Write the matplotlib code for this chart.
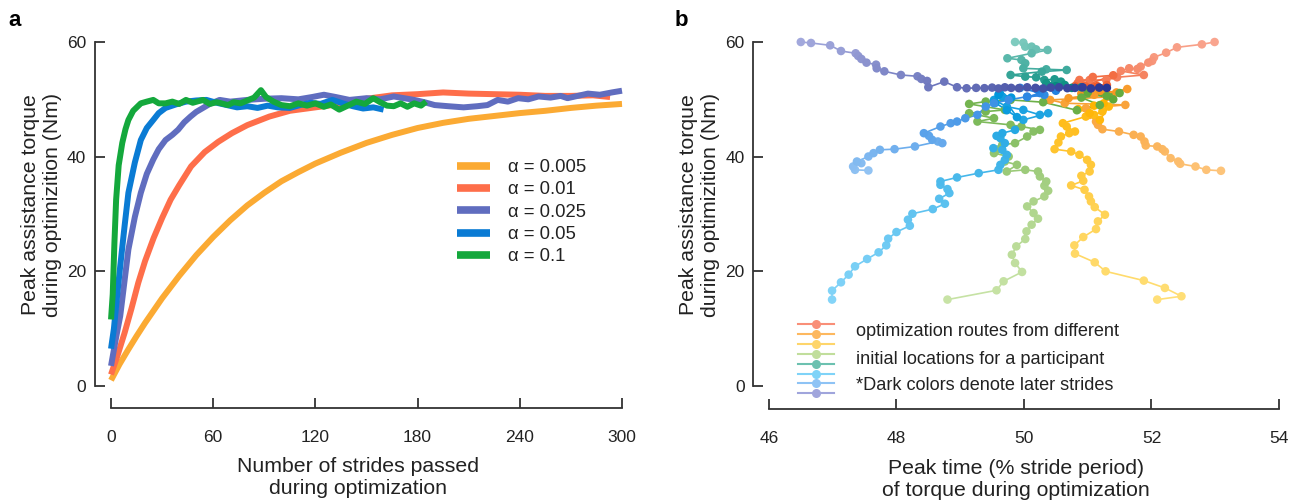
import numpy as np
import matplotlib
matplotlib.use("Agg")
import matplotlib.pyplot as plt
from matplotlib.collections import LineCollection
from matplotlib.colors import LinearSegmentedColormap
from matplotlib.lines import Line2D

plt.rcParams['font.family'] = ['Liberation Sans', 'DejaVu Sans']

# ---------------- Panel a data ----------------
alpha_labels = ["α = 0.005", "α = 0.01", "α = 0.025", "α = 0.05", "α = 0.1"]
alpha_colors = ["#fbaa33", "#fe6e4a", "#606dbf", "#0a7bd4", "#14a83c"]

x_a005 = [0, 5, 10, 15, 20, 30, 40, 50, 60, 70, 80, 90, 100, 110, 120, 135, 150, 165, 180,
          195, 210, 225, 240, 255, 270, 285, 300]
y_a005 = [1.0, 3.8, 6.3, 8.7, 11.0, 15.3, 19.2, 22.8, 26.0, 28.9, 31.5, 33.7, 35.7, 37.3, 38.8,
          40.7, 42.4, 43.8, 45.0, 45.9, 46.6, 47.1, 47.6, 48.0, 48.5, 48.9, 49.2]

x_a01 = [0, 4, 8, 12, 16, 20, 25, 30, 35, 40, 47, 55, 63, 71, 80, 93, 105, 120, 135, 150,
         165, 180, 195, 210, 225, 240, 255, 270, 283, 293]
y_a01 = [2.0, 5.5, 9.3, 13.5, 18.0, 21.8, 25.8, 29.3, 32.5, 35.0, 38.3, 40.8, 42.6, 44.1, 45.5,
         47.0, 48.0, 48.6, 49.2, 50.1, 50.7, 50.9, 51.2, 51.0, 50.9, 50.8, 50.6, 50.6, 50.7, 50.4]

x_a025 = [0, 3, 5.4, 8, 10.2, 14, 17.5, 21, 24.8, 28, 32, 36, 39.4, 43, 46.7, 50, 54, 58, 63.8,
          70, 80, 90, 100, 110, 118, 125, 132, 140, 150, 158, 166, 172, 178, 184, 190, 198,
          207, 215, 221, 227, 233, 239, 245, 251, 258, 264, 268, 274, 280, 287, 294, 300]
y_a025 = [3.5, 8.5, 12.2, 18.5, 23.8, 29.5, 33.7, 37.0, 39.5, 41.3, 42.9, 43.8, 44.7, 46.0, 47.0,
          47.8, 48.5, 49.2, 49.9, 49.6, 49.9, 50.1, 50.2, 50.0, 50.4, 50.8, 50.4, 49.9, 50.2, 50.0,
          50.5, 50.2, 49.9, 49.5, 49.0, 48.8, 48.6, 48.8, 49.0, 49.9, 49.6, 50.2, 50.0, 50.5, 50.3,
          50.6, 50.2, 50.6, 51.0, 50.8, 51.2, 51.5]

x_a05 = [0, 1.7, 3.5, 5.4, 8, 10.2, 14, 17.5, 21, 24.8, 28, 32, 38, 44, 50, 56, 62, 68, 74, 80,
         86, 92, 98, 105, 111, 117, 123, 130, 136, 142, 148, 154, 160]
y_a05 = [6.5, 10.0, 15.5, 20.9, 28.0, 33.7, 39.0, 42.9, 45.0, 46.4, 47.6, 48.5, 49.1, 49.6, 49.8,
         49.9, 49.4, 49.0, 48.6, 48.8, 48.5, 48.9, 48.6, 48.5, 49.0, 49.4, 49.2, 49.9, 49.3, 48.8,
         48.4, 48.6, 48.2]

x_a1 = [0, 1, 2, 3, 4.5, 6.6, 8.5, 10.2, 13, 17.5, 21, 24.8, 28, 32, 36, 40, 44, 48, 54, 58, 62,
        68.7, 72, 76, 80.8, 84, 88, 91, 95.4, 100, 105, 110, 115, 120, 125, 129, 134, 139, 144,
        149, 154, 158, 162, 166, 170, 174, 178, 182, 185]
y_a1 = [11.6, 16.0, 25.0, 32.5, 38.5, 42.4, 44.8, 46.4, 48.0, 49.3, 49.6, 49.9, 49.3, 49.3, 49.6,
        49.2, 49.9, 49.4, 49.9, 49.2, 49.5, 49.0, 49.5, 49.3, 49.9, 50.3, 51.6, 50.4, 49.6, 49.0,
        48.8, 49.3, 48.9, 49.3, 48.7, 49.1, 48.2, 48.9, 49.6, 49.2, 50.2, 49.5, 48.9, 48.8, 49.3,
        48.7, 49.3, 48.9, 49.6]

series_x = [x_a005, x_a01, x_a025, x_a05, x_a1]
series_y = [y_a005, y_a01, y_a025, y_a05, y_a1]

xticks_a = [0, 60, 120, 180, 240, 300]
yticks = [0, 20, 40, 60]

# ---------------- Panel b data ----------------
r1_x = [52.99, 52.79, 52.40, 52.23, 52.04, 52.01, 51.95, 51.83, 51.78, 51.65, 51.52, 51.88, 51.46,
        51.29, 51.03, 50.87, 50.84, 51.08, 51.40, 50.95, 51.10, 51.30, 50.80, 51.00, 51.15]
r1_y = [60.0, 59.59, 59.07, 58.14, 57.33, 56.69, 56.40, 55.71, 55.30, 55.42, 54.95, 54.25, 53.85,
        53.38, 53.38, 53.38, 52.80, 53.9, 54.2, 52.4, 52.2, 52.5, 52.3, 52.0, 52.3]

r2_x = [53.09, 52.86, 52.69, 52.45, 52.42, 52.30, 52.21, 52.17, 52.09, 51.91, 51.89, 51.83, 51.72,
        51.49, 51.23, 51.16, 51.13, 51.03, 50.97, 51.59, 50.64, 50.41, 51.30, 51.62, 51.10, 50.70,
        51.45, 51.20, 50.90]
r2_y = [37.54, 37.71, 38.29, 38.76, 39.16, 39.74, 40.91, 41.31, 41.78, 41.95, 42.65, 43.52, 43.81,
        44.39, 44.79, 45.55, 46.13, 47.29, 48.45, 49.03, 49.32, 49.90, 50.40, 51.80, 50.8, 50.2,
        51.2, 51.5, 51.0]

r3_x = [52.09, 52.47, 52.21, 51.88, 51.28, 51.11, 50.80, 50.79, 50.93, 51.13, 51.16, 51.27, 51.11,
        51.05, 51.02, 50.95, 50.74, 50.93, 50.90, 51.03, 51.05, 50.99, 50.87, 50.74, 50.48, 50.54,
        50.58, 50.71, 50.80, 50.67, 50.61, 50.97, 51.10, 51.23, 51.33, 51.19, 51.03, 50.85, 51.10,
        51.25]
r3_y = [15.08, 15.66, 17.11, 18.39, 20.01, 21.58, 23.09, 24.54, 25.99, 27.38, 28.72, 29.88, 31.21,
        32.20, 33.07, 34.23, 34.99, 35.80, 36.67, 37.42, 38.58, 39.45, 40.33, 40.91, 41.31, 42.47,
        43.52, 44.10, 44.39, 45.26, 45.84, 47.00, 47.29, 47.87, 48.74, 46.4, 47.6, 48.3, 48.9, 49.3]

r4_x = [48.80, 49.57, 49.68, 49.97, 49.86, 49.81, 49.88, 50.02, 50.04, 50.12, 50.22, 50.15, 50.05,
        50.15, 50.32, 50.38, 50.32, 50.35, 50.25, 50.22, 50.02, 49.73, 49.89, 49.70, 49.76, 49.53,
        49.57, 49.66, 49.86, 50.05, 50.15, 50.25, 49.96, 49.79, 49.27, 49.53, 49.14, 49.40, 49.70,
        49.14, 49.40, 49.79, 50.30, 50.83, 51.19, 50.90, 51.50, 51.30, 51.00, 51.40]
r4_y = [15.08, 16.70, 18.27, 19.90, 21.46, 22.91, 24.36, 25.64, 26.98, 28.14, 29.18, 30.17, 31.33,
        32.20, 33.07, 34.06, 34.93, 35.68, 36.55, 37.42, 37.71, 37.42, 38.58, 39.16, 40.03, 40.62,
        41.20, 42.07, 42.36, 43.52, 44.39, 44.68, 45.26, 45.55, 46.13, 46.71, 47.58, 47.87, 48.16,
        49.20, 49.61, 49.90, 49.5, 48.1, 49.0, 50.3, 51.1, 50.6, 51.2, 50.0]

r5_x = [49.86, 49.99, 50.02, 50.12, 50.19, 50.37, 50.12, 49.74, 49.96, 50.02, 49.99, 50.35, 50.67,
        50.28, 49.79, 50.02, 50.19, 50.32, 50.48, 50.58, 50.35, 50.64, 50.90, 50.50, 50.75]
r5_y = [60.0, 59.88, 59.19, 59.19, 58.72, 58.61, 58.03, 57.16, 56.87, 56.29, 55.41, 55.24, 55.12,
        54.83, 54.25, 53.96, 53.85, 53.38, 53.50, 53.09, 52.80, 52.51, 52.11, 52.3, 52.0]

r6_x = [46.99, 46.99, 47.13, 47.25, 47.35, 47.54, 47.72, 47.84, 47.87, 48.00, 48.21, 48.18, 48.25,
        48.57, 48.76, 48.67, 48.83, 48.80, 48.69, 48.69, 48.95, 49.29, 49.60, 49.63, 49.70, 49.73,
        49.66, 49.52, 49.70, 49.63, 49.57, 49.66, 49.86, 49.99, 50.38, 50.25, 49.99, 49.73, 49.53,
        49.66, 49.89, 49.73, 49.55, 49.62, 49.80, 49.60]
r6_y = [15.08, 16.64, 18.09, 19.43, 20.88, 22.16, 23.32, 24.54, 25.70, 26.86, 27.96, 29.01, 30.05,
        30.86, 31.79, 32.66, 33.65, 34.35, 35.10, 35.68, 36.38, 37.13, 37.71, 38.58, 39.45, 40.33,
        41.20, 41.49, 42.36, 43.23, 43.63, 44.10, 44.68, 46.42, 47.58, 47.29, 48.16, 48.74, 49.90,
        50.48, 46.9, 48.1, 49.4, 51.1, 50.3, 50.8]

r7_x = [47.56, 47.35, 47.32, 47.45, 47.38, 47.56, 47.64, 47.74, 47.97, 48.29, 48.65, 48.72, 48.56,
        48.51, 48.43, 48.69, 48.85, 48.95, 49.08, 49.27, 49.40, 49.53, 49.76, 50.05, 50.32, 50.05,
        50.25, 49.94, 50.50, 50.20]
r7_y = [37.60, 37.71, 38.29, 38.87, 39.16, 40.03, 40.62, 41.20, 41.31, 41.78, 42.65, 42.36, 42.94,
        43.63, 44.10, 45.26, 45.84, 46.13, 46.71, 47.29, 48.74, 49.32, 49.90, 50.48, 50.77, 50.4,
        51.1, 52.0, 51.5, 51.8]

r8_x = [46.50, 46.66, 46.96, 47.13, 47.36, 47.40, 47.45, 47.53, 47.68, 47.69, 47.81, 48.07, 48.33,
        48.39, 48.48, 48.50, 48.75, 48.95, 49.10, 49.25, 49.38, 49.50, 49.60, 49.70, 49.80, 49.92,
        50.05, 50.18, 50.30, 50.42, 50.55, 50.68, 50.80, 50.92, 51.05, 51.18, 51.30]
r8_y = [60.0, 59.83, 59.42, 58.43, 58.03, 57.56, 57.04, 56.40, 56.05, 55.41, 54.89, 54.25, 54.02,
        53.56, 53.21, 52.11, 53.09, 52.11, 51.93, 52.0, 51.95, 52.05, 51.9, 52.1, 52.0, 51.95, 52.1,
        52.0, 51.9, 52.05, 52.1, 51.95, 52.0, 52.1, 51.9, 52.05, 52.0]

routes_x = [r1_x, r2_x, r3_x, r4_x, r5_x, r6_x, r7_x, r8_x]
routes_y = [r1_y, r2_y, r3_y, r4_y, r5_y, r6_y, r7_y, r8_y]
route_light = ["#f9a58f", "#fdc47a", "#ffdf78", "#c8e3a6", "#7fcbbf", "#84d4f8", "#92c3f3", "#a2a8dc"]
route_dark = ["#f15a29", "#f7941d", "#ffb300", "#5ea83a", "#00897b", "#0096db", "#1e7fe0", "#283593"]
legend_colors = ["#f98f78", "#fdb85f", "#fed56b", "#c1de9c", "#6cc1b0", "#7fd3f8", "#8ec3f5", "#a0a5dc"]
legend_text_b = ["optimization routes from different",
                 "initial locations for a participant",
                 "*Dark colors denote later strides"]
xticks_b = [46, 48, 50, 52, 54]

# ---------------- Figure ----------------
W, H = 1301, 501
fig = plt.figure(figsize=(W / 100, H / 100), dpi=100)

def fx(px):
    return px / W

def fy(py):
    return (H - py) / H

spine_c = "#333333"
tick_fs = 12.5
label_fs = 15.3
leg_fs = 13.3

def style_axes(ax, xb):
    for s in ["top", "right"]:
        ax.spines[s].set_visible(False)
    ax.spines["left"].set_bounds(0, 60)
    ax.spines["bottom"].set_bounds(*xb)
    for s in ["left", "bottom"]:
        ax.spines[s].set_linewidth(1.3)
        ax.spines[s].set_color(spine_c)
    ax.tick_params(axis="both", direction="in", length=7, width=1.3, color=spine_c,
                   labelsize=tick_fs, labelcolor="#222222")
    ax.tick_params(axis="x", pad=16)
    ax.tick_params(axis="y", pad=6)

# Panel a
axa = fig.add_axes([fx(94.5), fy(408), fx(622) - fx(94.5), fy(42) - fy(408)])
for xs, ys, c, lab in zip(series_x, series_y, alpha_colors, alpha_labels):
    axa.plot(xs, ys, color=c, lw=4.3, label=lab, clip_on=False, solid_capstyle="butt")
axa.set_xlim(-9.7, 300)
axa.set_ylim(-3.84, 60)
axa.set_xticks(xticks_a)
axa.set_yticks(yticks)
style_axes(axa, (0, 300))
axa.set_xlabel("Number of strides passed\nduring optimization", fontsize=label_fs, color="#222222")
axa.xaxis.set_label_coords(0.5, -0.135, transform=axa.transAxes)
axa.xaxis.label.set_va("top")
axa.set_ylabel("Peak assistance torque\nduring optimizition (Nm)", fontsize=label_fs, color="#222222")
axa.yaxis.set_label_coords(fx(62), fy(205), transform=fig.transFigure)
leg = axa.legend(loc="upper left", bbox_to_anchor=(fx(457), fy(159)), bbox_transform=fig.transFigure,
                 frameon=False, fontsize=leg_fs, handlelength=1.8, handletextpad=0.95,
                 labelspacing=0.29, borderpad=0, borderaxespad=0)
for h in leg.get_lines():
    h.set_linewidth(5.5)
for t in leg.get_texts():
    t.set_color("#222222")

# Panel b
axb = fig.add_axes([fx(753), fy(409), fx(1279) - fx(753), fy(42) - fy(409)])
for xs, ys, cl, cd in zip(routes_x, routes_y, route_light, route_dark):
    cmap = LinearSegmentedColormap.from_list("r", [cl, cd])
    n = len(xs)
    t = np.linspace(0, 1, n)
    cols = cmap(t)
    pts = np.column_stack([xs, ys])
    segs = np.stack([pts[:-1], pts[1:]], axis=1)
    lc = LineCollection(segs, colors=cols[1:], linewidths=1.2, clip_on=False, zorder=2)
    axb.add_collection(lc)
    axb.scatter(xs, ys, s=38, c=cols, edgecolors="none", clip_on=False, zorder=3)
axb.set_xlim(45.75, 54)
axb.set_ylim(-4, 60)
axb.set_xticks(xticks_b)
axb.set_yticks(yticks)
style_axes(axb, (46, 54))
axb.set_xlabel("Peak time (% stride period)\nof torque during optimization", fontsize=label_fs, color="#222222")
axb.xaxis.set_label_coords(0.5, -0.135, transform=axb.transAxes)
axb.xaxis.label.set_va("top")
axb.set_ylabel("Peak assistance torque\nduring optimizition (Nm)", fontsize=label_fs, color="#222222")
axb.yaxis.set_label_coords(fx(720), fy(205), transform=fig.transFigure)

# custom legend for panel b
for i, c in enumerate(legend_colors):
    yy = fy(324 + i * 9.9)
    fig.add_artist(Line2D([fx(798), fx(834)], [yy, yy], color=c, lw=1.5, transform=fig.transFigure))
    fig.add_artist(Line2D([fx(816)], [yy], color=c, marker="o", ms=6.5, mec="none",
                          transform=fig.transFigure))
for i, txt in enumerate(legend_text_b):
    fig.text(fx(856), fy(332 + i * 27), txt, fontsize=13.1, va="center", ha="left", color="#222222")

fig.text(fx(8), fy(21), "a", fontsize=16, fontweight="bold", va="center", ha="left")
fig.text(fx(675), fy(21), "b", fontsize=16, fontweight="bold", va="center", ha="left")

fig.savefig("out.png", dpi=100)
